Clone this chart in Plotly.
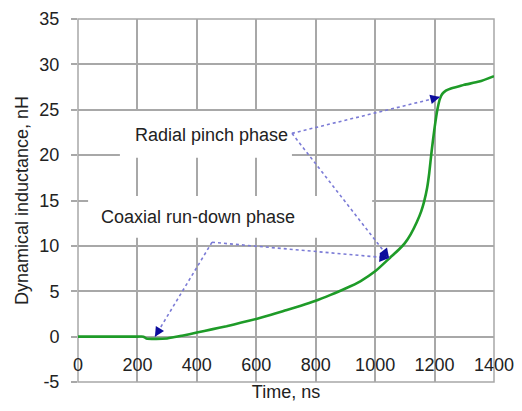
import plotly.graph_objects as go

# Data
time_ns = [0, 100, 200, 220, 230, 260, 300, 350, 400, 450, 500, 550, 600, 650, 700,
           750, 800, 850, 900, 950, 1000, 1050, 1080, 1100, 1120, 1140, 1155, 1165,
           1175, 1182, 1190, 1200, 1210, 1218, 1226, 1238, 1255, 1280, 1300, 1350, 1400]
inductance_nH = [0, 0, 0, 0, -0.2, -0.25, -0.2, 0.1, 0.45, 0.8, 1.15, 1.55, 1.95, 2.4, 2.9,
                 3.4, 3.95, 4.6, 5.3, 6.1, 7.2, 8.7, 9.6, 10.3, 11.3, 12.6, 13.8, 14.9,
                 16.4, 18.0, 20.4, 23.0, 25.1, 26.2, 26.75, 27.1, 27.35, 27.55, 27.75, 28.1, 28.7]

x_ticks = [0, 200, 400, 600, 800, 1000, 1200, 1400]
y_ticks = [-5, 0, 5, 10, 15, 20, 25, 30, 35]

# Annotation labels: text, text start (left, middle), white box, line origin, arrow tips
radial_label = "Radial pinch phase"
radial_text_at = (185, 22.2)
radial_box = (141, 19.7, 720, 24.85)
radial_origin = (720, 22.4)
radial_tips = [(1218, 26.4), (1047, 8.66)]

coax_label = "Coaxial run-down phase"
coax_text_at = (70, 13.2)
coax_box = (34, 10.9, 990, 15.5)
coax_origin = (451, 10.4)
coax_tips = [(259, 0.0), (1047, 8.66)]

W, H = 522, 411
ML, MR, MT, MB = 78, 28, 19, 29
XR = [0, 1400]
YR = [-5, 35]
px_x = (W - ML - MR) / (XR[1] - XR[0])
px_y = (H - MT - MB) / (YR[1] - YR[0])

FONT = "Liberation Sans, Arial, sans-serif"
GRID = "#a8a8a8"
TXT = "#222222"
LINE_C = "#7b7bd6"
HEAD_C = "#0c0c9c"

fig = go.Figure()
fig.add_trace(go.Scatter(x=time_ns, y=inductance_nH, mode="lines",
                         line=dict(color="#1e9b28", width=2.6, shape="spline", smoothing=0.6),
                         showlegend=False, hoverinfo="skip"))

shapes = []
annotations = []

# white boxes behind label texts (cover gridlines only)
for b in (radial_box, coax_box):
    shapes.append(dict(type="rect", xref="x", yref="y", x0=b[0], y0=b[1], x1=b[2], y1=b[3],
                       fillcolor="white", line=dict(width=0), layer="between"))

# plot border
shapes.append(dict(type="rect", xref="paper", yref="paper", x0=0, y0=0, x1=1, y1=1,
                   line=dict(color=GRID, width=1.5), fillcolor="rgba(0,0,0,0)",
                   layer="between"))


def add_pointer(origin, tip):
    shapes.append(dict(type="line", xref="x", yref="y", x0=origin[0], y0=origin[1],
                       x1=tip[0], y1=tip[1], line=dict(color=LINE_C, width=1.6, dash="dot")))
    dxp = (tip[0] - origin[0]) * px_x
    dyp = -(tip[1] - origin[1]) * px_y
    L = (dxp ** 2 + dyp ** 2) ** 0.5
    ux, uy = dxp / L, dyp / L
    annotations.append(dict(x=tip[0], y=tip[1], xref="x", yref="y", text="",
                            showarrow=True, ax=-ux * 9, ay=-uy * 9,
                            arrowhead=2, arrowsize=1.2, arrowwidth=1.6,
                            arrowcolor=HEAD_C))


for t in radial_tips:
    add_pointer(radial_origin, t)
for t in coax_tips:
    add_pointer(coax_origin, t)

for label, pos in ((radial_label, radial_text_at), (coax_label, coax_text_at)):
    annotations.append(dict(x=pos[0], y=pos[1], xref="x", yref="y", text=label,
                            showarrow=False, xanchor="left", yanchor="middle",
                            font=dict(family=FONT, size=18, color=TXT)))

fig.update_layout(
    width=W, height=H,
    margin=dict(l=ML, r=MR, t=MT, b=MB, pad=0),
    paper_bgcolor="white", plot_bgcolor="white",
    font=dict(family=FONT, size=18, color=TXT),
    shapes=shapes, annotations=annotations,
    xaxis=dict(range=XR, tickvals=x_ticks, ticktext=[str(v) for v in x_ticks],
               showgrid=True, gridcolor=GRID, gridwidth=1.5,
               showline=False, zeroline=False, ticks="",
               anchor="free", position=0.082,
               title=dict(text="Time, ns", standoff=11, font=dict(size=18)),
               automargin=False, fixedrange=True),
    yaxis=dict(range=YR, tickvals=y_ticks, ticktext=[str(v) for v in y_ticks],
               showgrid=True, gridcolor=GRID, gridwidth=1.5,
               showline=False,
               zeroline=True, zerolinecolor=GRID, zerolinewidth=1.5,
               ticks="outside", ticklen=6, tickcolor=GRID, tickwidth=1.5,
               ticklabelstandoff=8,
               title=dict(text="Dynamical inductance, nH", standoff=6, font=dict(size=18)),
               automargin=False, fixedrange=True),
)

fig.write_html("out.html")
